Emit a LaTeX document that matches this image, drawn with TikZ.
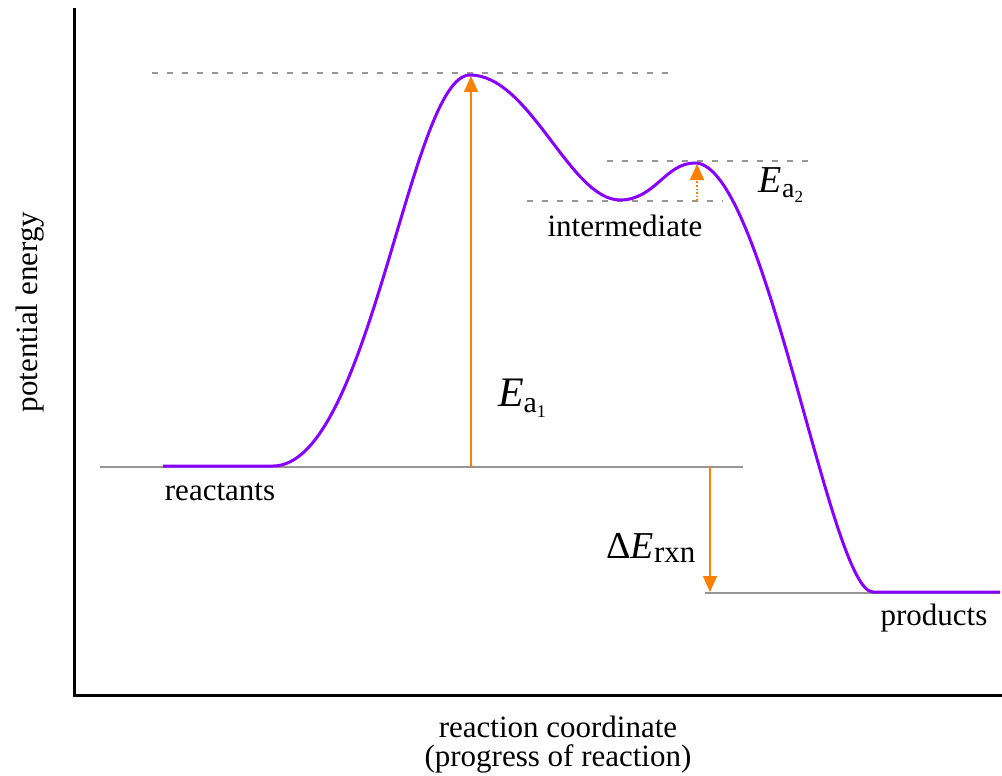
\documentclass[tikz,border=0pt]{standalone}
\usepackage{fontspec}
\setmainfont{Liberation Serif}
\usetikzlibrary{arrows.meta, positioning, calc}
\definecolor{curvecol}{RGB}{136,0,255}
\definecolor{arrowcol}{RGB}{255,128,0}
\definecolor{levelcol}{RGB}{150,150,150}

\begin{document}
\begin{tikzpicture}[
    x=1pt, y=-1pt,
    font=\rmfamily\fontsize{31}{34}\selectfont,
    axis/.style={line width=3pt, black},
    level/.style={line width=2pt, levelcol},
    guide/.style={line width=1.5pt, levelcol, dash pattern=on 6pt off 9pt},
    energy/.style={line width=3pt, curvecol},
    barrier/.style={-{Triangle[length=16pt, width=14pt]}, line width=1.6pt, arrowcol},
    lab/.style={inner sep=0pt, anchor=center},
    biglab/.style={lab, font=\rmfamily\fontsize{42}{46}\selectfont}
  ]
    \useasboundingbox (0,0) rectangle (1002,776);
    % axes
    \coordinate (origin) at (74,695);
    \coordinate (ytop) at (74,8);
    \coordinate (xend) at (1002,695);
    \draw[axis] (ytop) -- (origin) -- (xend);
    \node[lab, rotate=90] (ylab) at (30,312) {potential energy};
    \node[lab] (xlab) at (558,727) {reaction coordinate};
    \node[lab, below=6pt of xlab] (xlab2) {(progress of reaction)};
    % energy levels
    \coordinate (react0) at (100,467);
    \coordinate (react1) at (743,467);
    \coordinate (prod0) at (705,593);
    \coordinate (prod1) at (1000,593);
    \draw[level] (react0) -- (react1);
    \draw[level] (prod0) -- (prod1);
    \draw[guide] (152,73) -- (672,73);
    \draw[guide] (607,161) -- (808,161);
    \draw[guide] (527,201) -- (723,201);
    % reaction path
    \draw[energy] (163,466) -- (273,466)
        .. controls (370,466) and (410,75) .. (470,75)
        .. controls (530,75) and (570,200) .. (620,200)
        .. controls (655,200) and (665,163) .. (695,163)
        .. controls (765,163) and (830,592) .. (873,592)
        -- (1000,592);
    % barriers
    \coordinate (ts1) at (471,76);
    \coordinate (base1) at (471,467);
    \coordinate (ts2) at (697,164);
    \coordinate (base2) at (697,201);
    \coordinate (dtop) at (710,467);
    \coordinate (dbot) at (710,592);
    \draw[barrier] (base1) -- (ts1);
    \draw[barrier, dotted] (base2) -- (ts2);
    \draw[barrier] (dtop) -- (dbot);
    % labels
    \node[lab] (reactants) at (220,492) {reactants};
    \node[lab] (products) at (934,618) {products};
    \node[lab] (intermediate) at (625,226) {intermediate};
    \node[biglab] (ea1) at (522,398) {\textit{E}\raisebox{-0.3ex}{\fontsize{30}{32}\selectfont a\raisebox{-0.35ex}{\fontsize{18}{20}\selectfont 1}}};
    \node[biglab, font=\rmfamily\fontsize{38}{42}\selectfont] (ea2) at (781,185) {\textit{E}\raisebox{-0.3ex}{\fontsize{28}{30}\selectfont a\raisebox{-0.35ex}{\fontsize{17}{18}\selectfont 2}}};
    \node[biglab, font=\rmfamily\fontsize{38}{42}\selectfont] (derxn) at (651,548) {Δ\textit{E}\raisebox{-0.25ex}{\fontsize{31}{33}\selectfont rxn}};
  \end{tikzpicture}
\end{document}
